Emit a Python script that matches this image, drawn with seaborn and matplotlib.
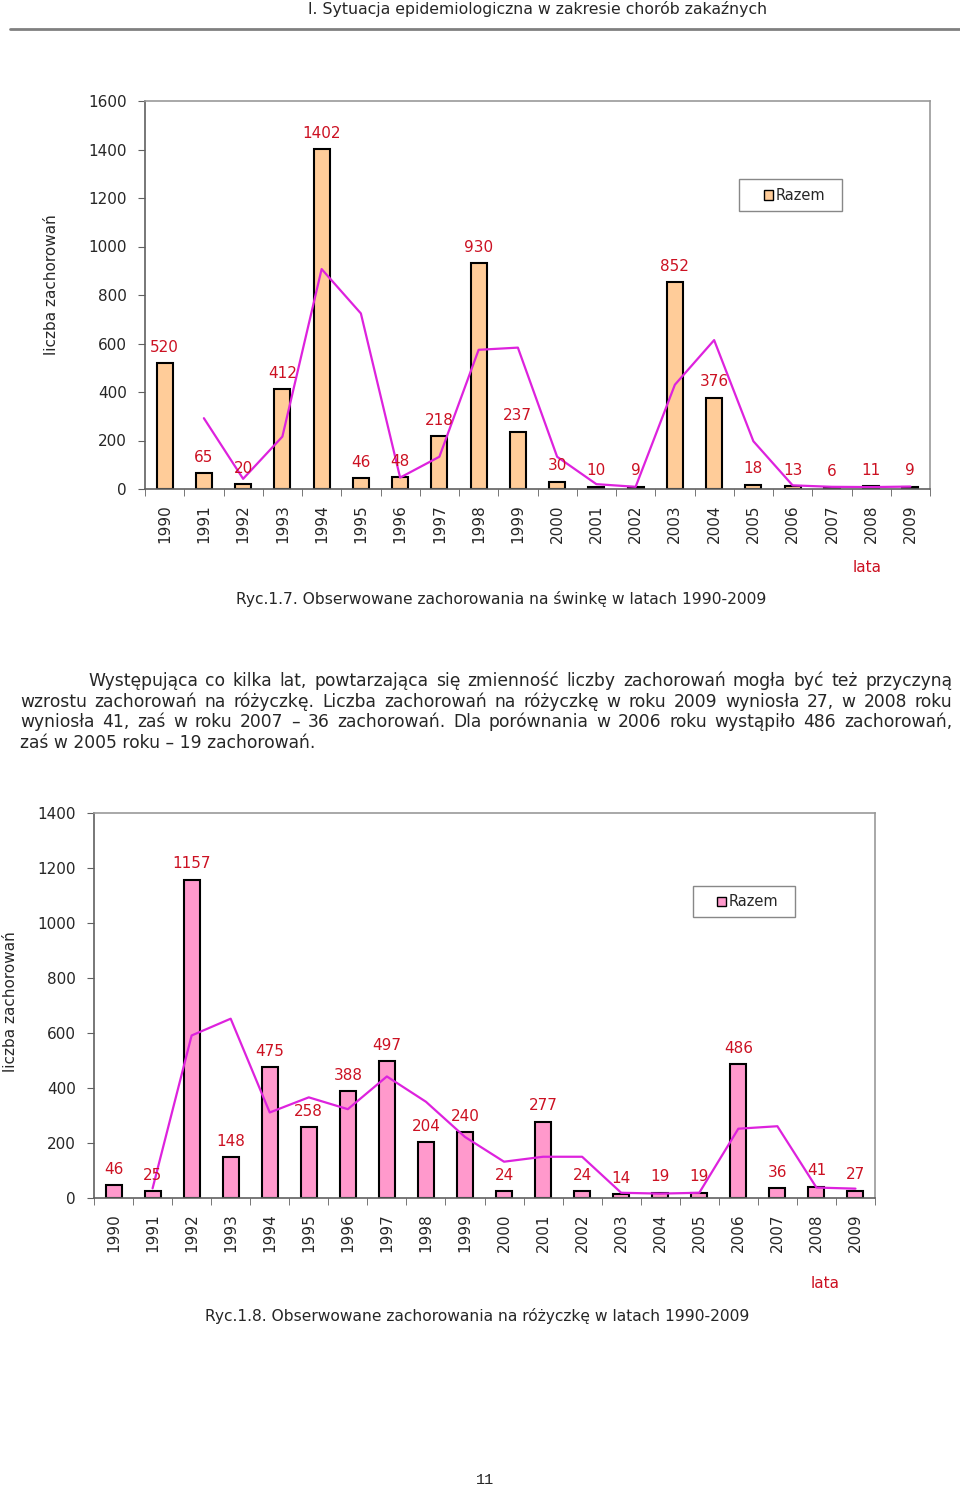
"""
Mumps and rubella cases 1990-2009 (two bar charts with a trend line)
Rebuilt page: header, two charts, captions and a paragraph
"""

import numpy as np
import matplotlib
matplotlib.use('Agg')
import matplotlib.pyplot as plt
import seaborn as sns
from matplotlib.lines import Line2D
from matplotlib.patches import Rectangle

# ---- data -------------------------------------------------------------
years = list(range(1990, 2010))
line_years = list(range(1991, 2010))

mumps_cases = [520, 65, 20, 412, 1402, 46, 48, 218, 930, 237,
               30, 10, 9, 852, 376, 18, 13, 6, 11, 9]
mumps_trend = [292, 42, 216, 907, 724, 47, 133, 574, 583, 133,
               20, 9, 430, 614, 197, 15, 9, 8, 10]

rubella_cases = [46, 25, 1157, 148, 475, 258, 388, 497, 204, 240,
                 24, 277, 24, 14, 19, 19, 486, 36, 41, 27]
rubella_trend = [35, 591, 652, 311, 366, 323, 442, 350, 222, 132,
                 150, 150, 19, 16, 19, 252, 261, 38, 34]

header = 'I. Sytuacja epidemiologiczna w zakresie chorób zakaźnych'
caption_1 = 'Ryc.1.7. Obserwowane zachorowania na świnkę w latach 1990-2009'
caption_2 = 'Ryc.1.8. Obserwowane zachorowania na różyczkę w latach 1990-2009'
paragraph = [
    'Występująca co kilka lat, powtarzająca się zmienność liczby zachorowań mogła być też przyczyną',
    'wzrostu zachorowań na różyczkę. Liczba zachorowań na różyczkę w roku 2009 wyniosła 27, w 2008 roku',
    'wyniosła 41, zaś w roku 2007 – 36 zachorowań. Dla porównania w 2006 roku wystąpiło 486 zachorowań,',
    'zaś w 2005 roku – 19 zachorowań.',
]

W, H = 960, 1488
RED = '#CC1122'
MAGENTA = '#DD22DD'

sns.set_style('white')
plt.rcParams['font.family'] = ['DejaVu Sans']


def fx(x):
    return x / W


def fy(y):
    return 1 - y / H


def draw_chart(fig, rect, cases, trend, color, ymax, ylabel_xy, legend_px):
    ax = fig.add_axes(rect)
    sns.barplot(x=years, y=cases, native_scale=True, color=color, saturation=1,
                edgecolor='black', linewidth=1.5, width=0.41, ax=ax)
    sns.lineplot(x=line_years, y=trend, color=MAGENTA, linewidth=1.6, ax=ax)
    ax.bar_label(ax.containers[0], padding=6, color=RED, fontsize=11)

    ax.set_xlim(1989.5, 2009.5)
    ax.set_ylim(0, ymax)
    ax.set_yticks(np.arange(0, ymax + 1, 200))
    ax.set_xticks(years)
    ax.set_xticklabels([str(y) for y in years], rotation=90)
    ax.set_xticks(np.arange(1989.5, 2010, 1), minor=True)
    ax.tick_params(axis='x', which='major', length=0, pad=11, labelsize=11)
    ax.tick_params(axis='x', which='minor', length=5, direction='out',
                   color='#606060', bottom=True)
    ax.tick_params(axis='y', length=5, direction='out', pad=8, labelsize=11,
                   color='#606060', left=True)
    ax.set_xlabel('')
    ax.set_ylabel('liczba zachorowań', fontsize=11)
    ax.yaxis.set_label_coords(*ylabel_xy)
    ax.grid(False)
    for side in ['left', 'bottom']:
        ax.spines[side].set_color('#606060')
        ax.spines[side].set_linewidth(1.2)
    for side in ['top', 'right']:
        ax.spines[side].set_color('#999999')
        ax.spines[side].set_linewidth(1.2)

    # legend box drawn by hand (only the bar series is listed)
    x0, y0, x1, y1, sq, tx = legend_px
    fig.add_artist(Rectangle((fx(x0), fy(y1)), fx(x1 - x0), (y1 - y0) / H,
                             transform=fig.transFigure, facecolor='white',
                             edgecolor='#888888', linewidth=1))
    yc = (y0 + y1) / 2
    fig.add_artist(Rectangle((fx(sq), fy(yc + 4.5)), fx(9), 9 / H,
                             transform=fig.transFigure, facecolor=color,
                             edgecolor='black', linewidth=1))
    fig.text(fx(tx), fy(yc), 'Razem', fontsize=10.5, va='center', ha='left')
    return ax


def justified_line(fig, text, x0, x1, y, size):
    words = text.split(' ')
    objs = [fig.text(0, fy(y), w, fontsize=size, va='center', ha='left') for w in words]
    renderer = fig.canvas.get_renderer()
    widths = [t.get_window_extent(renderer).width for t in objs]
    gap = (x1 - x0 - sum(widths)) / (len(words) - 1)
    x = x0
    for t, w in zip(objs, widths):
        t.set_x(fx(x))
        x += w + gap


fig = plt.figure(figsize=(W / 100, H / 100), dpi=100)

# header
fig.text(fx(538), fy(9), header, fontsize=11.3, ha='center', va='center')
fig.add_artist(Line2D([fx(10), fx(960)], [fy(29), fy(29)], color='#808080',
                      linewidth=2, transform=fig.transFigure))

# chart 1 - mumps
draw_chart(fig, [fx(145), fy(489), fx(785), 388 / H], mumps_cases, mumps_trend,
           '#FFCC99', 1600, (-0.110, 0.526), (739, 179, 842, 211, 764, 776))
fig.text(fx(867), fy(568), 'lata', color=RED, fontsize=11, ha='center', va='center')
fig.text(fx(501), fy(599), caption_1, fontsize=11.2, ha='center', va='center')

# paragraph
justified_line(fig, paragraph[0], 88, 952, 681, 12.3)
justified_line(fig, paragraph[1], 20, 952, 702, 12.3)
justified_line(fig, paragraph[2], 20, 952, 722, 12.3)
fig.text(fx(20), fy(743), paragraph[3], fontsize=12.3, ha='left', va='center')

# chart 2 - rubella
draw_chart(fig, [fx(94), fy(1198), fx(781), 385 / H], rubella_cases, rubella_trend,
           '#FF99CC', 1400, (-0.0973, 0.509), (693, 886, 795, 917, 717, 729))
fig.text(fx(825), fy(1283), 'lata', color=RED, fontsize=11, ha='center', va='center')
fig.text(fx(477), fy(1316), caption_2, fontsize=11.2, ha='center', va='center')

# page number
fig.text(fx(485), fy(1480), '11', fontsize=11, ha='center', va='center',
         family=['Liberation Mono', 'DejaVu Sans Mono'])

fig.savefig('out.png', dpi=100)
